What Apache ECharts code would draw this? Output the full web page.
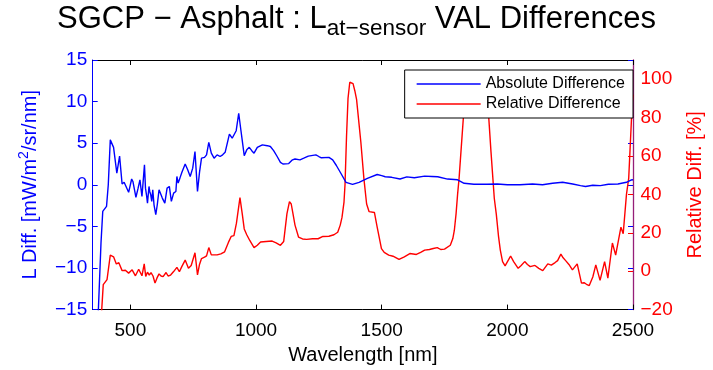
<!DOCTYPE html>
<html>
<head>
<meta charset="utf-8">
<script src="https://cdn.jsdelivr.net/npm/echarts@6/dist/echarts.min.js"></script>
<style>html,body{margin:0;padding:0;background:#fff;}#c{width:713px;height:370px;}</style>
</head>
<body>
<div id="c"></div>
<script>
// Absolute difference (left axis): wavelength [nm], value
const absWl = [370,383,390,405,412,420,433,446,457,467,475,482,493,505,510,516,522,530,538,546,556,560,564,568,574,577,581,585,589,594,601,607,614,620,627,637,646,655,663,672,681,685,690,697,705,718,728,738,748,757,767,775,783,795,803,812,822,833,845,857,867,877,894,905,910,921,931,940,953,963,973,983,992,1005,1025,1045,1057,1070,1084,1097,1107,1130,1145,1155,1175,1190,1208,1238,1250,1260,1290,1305,1319,1338,1358,1384,1410,1443,1482,1500,1514,1540,1573,1600,1630,1671,1700,1723,1762,1802,1828,1867,1919,1960,2000,2050,2100,2140,2180,2220,2260,2291,2311,2340,2370,2402,2440,2474,2492,2500];
const absVal = [-17,-7,-3.2,-2.6,0,5.4,4.5,1.4,3.45,0.1,0.3,0.4,-0.9,0.7,0.4,0.3,-1.5,-0.5,0.6,-1.4,2.4,-0.4,-1.2,-2.2,-0.2,-0.8,-1.2,-2.0,-0.6,-2.4,-3.6,-2.4,-0.6,-0.8,-1.6,-2.2,-0.4,-0.2,-2.0,-1.0,-0.8,1.0,0.2,0.8,1.5,2.5,1.8,1.0,2.0,4.0,-0.8,1.5,3.2,3.3,3.6,5.1,3.8,3.2,3.6,3.4,3.6,3.9,6.1,5.6,5.5,6.5,8.6,6.5,3.5,4.2,4.5,4.1,3.8,4.5,4.8,4.7,4.6,4.1,3.4,2.7,2.5,2.55,3.0,3.1,3.0,3.2,3.45,3.6,3.4,3.25,3.3,3.0,2.35,1.36,0.3,0.06,0.3,0.77,1.24,1.1,0.97,0.9,0.7,0.95,0.85,1.04,1.0,0.97,0.69,0.6,0.18,0.06,0.06,0.1,0.0,0.0,0.1,0.0,0.18,0.3,0.1,-0.1,-0.2,-0.05,-0.1,0.06,0.1,0.3,0.57,0.6];

// Relative difference (right axis): wavelength [nm], value [%]
const relWl = [385,392,407,420,433,444,454,467,480,493,507,520,533,546,555,561,568,575,582,590,598,606,614,622,630,642,650,660,672,685,695,705,718,731,742,757,767,775,783,795,803,812,822,829,845,860,875,890,901,912,922,936,945,953,963,975,992,1005,1018,1040,1064,1080,1097,1110,1123,1133,1140,1146,1155,1169,1185,1201,1225,1247,1266,1290,1310,1325,1335,1342,1350,1354,1360,1366,1373,1380,1386,1393,1400,1417,1429,1440,1450,1456,1471,1482,1499,1510,1528,1545,1569,1590,1612,1638,1655,1671,1690,1705,1721,1735,1750,1773,1783,1789,1796,1802,1808,1825,1840,1860,1900,1915,1926,1935,1948,1956,1965,1972,1981,1991,1998,2005,2013,2025,2043,2055,2069,2080,2091,2110,2125,2141,2161,2175,2190,2200,2213,2222,2232,2245,2259,2278,2295,2305,2315,2326,2340,2352,2369,2387,2400,2418,2431,2452,2461,2474,2483,2497,2500];
const relVal = [-22,-7,-4.4,8.4,7.5,3.8,4.4,0.3,0.5,-1.0,0.7,-2.4,1.0,-2.4,3.8,-2.7,-0.5,-2.0,-0.8,-2.5,-6.2,-3.5,-1.4,-2.5,-2.8,-0.7,-2.5,-2.0,-0.2,2.0,-0.3,2.5,5.8,1.5,3.0,9.6,-1.9,3.5,6.6,7.3,8.0,12.3,8.5,7.9,8.5,9.0,10.1,15.0,18.1,18.5,25,38.3,30,22,19,16,12.3,13.5,15.2,15.5,15.7,14.8,13.5,15.5,30,36.2,35,30.6,24,17.8,16.8,16.6,16.9,16.9,18.1,18.2,19.0,20.3,24,28,36,45,70,90,98.4,98.7,97.7,94,89.5,67.3,48.5,35,31,30.6,30.6,22.9,11.8,9.8,8.4,7.8,6.1,7.5,9.2,8.7,9.8,11.0,11.3,11.8,12.3,11.3,11.5,13.5,17,21.2,30,40,48.5,80,95,100,100,95,80,62,38,29.7,18,11,5,2.8,3.5,6,7.9,5,1.5,3,5,3.5,2.4,3.0,1.5,0.3,3.8,3.2,4.5,5.5,8.9,7,5.5,3.5,0.7,3.8,-6.2,-6.0,-6.8,-7.5,-3,3.3,-4.8,5,-3.6,14.7,8.4,22.9,19.5,40,48.5,87.8,92];

const xTicks = [500, 1000, 1500, 2000, 2500];
const leftTicks = [-15, -10, -5, 0, 5, 10, 15];
const rightTicks = [-20, 0, 20, 40, 60, 80, 100];

const FONT = '"Liberation Sans", Arial, Helvetica, sans-serif';
const absData = absWl.map((w, i) => [w, absVal[i]]);
const relData = relWl.map((w, i) => [w, relVal[i]]);
const fmt = v => String(v).replace('-', '\u2212');

const chart = echarts.init(document.getElementById('c'), null, {renderer: 'canvas'});
chart.setOption({
  animation: false,
  backgroundColor: '#fff',
  title: {
    text: '{a|SGCP \u2212 Asphalt : L}{s|at\u2212sensor}{a| VAL Differences}',
    left: 'center',
    top: 4,
    padding: 0,
    textStyle: {
      fontWeight: 'normal',
      rich: {
        a: {fontFamily: FONT, fontSize: 31, fontWeight: 'normal', color: '#000', lineHeight: 36, verticalAlign: 'top'},
        s: {fontFamily: FONT, fontSize: 22.5, fontWeight: 'normal', color: '#000', lineHeight: 10, verticalAlign: 'bottom'}
      }
    }
  },
  legend: {
    orient: 'vertical',
    right: 80,
    top: 70,
    padding: [5.5, 8, 5.5, 12],
    itemGap: 3,
    itemWidth: 64,
    itemHeight: 1.5,
    icon: 'rect',
    borderColor: '#000',
    borderWidth: 1,
    borderRadius: 0,
    backgroundColor: '#fff',
    textStyle: {fontFamily: FONT, fontSize: 16, color: '#000', lineHeight: 17},
    data: ['Absolute Difference', 'Relative Difference']
  },
  grid: {left: 92.7, right: 71.3, top: 60, bottom: 56.3, containLabel: false},
  xAxis: [{
    type: 'value', min: 350, max: 2500, position: 'bottom',
    name: 'Wavelength [nm]', nameLocation: 'middle', nameGap: 35,
    nameTextStyle: {fontFamily: FONT, fontSize: 20, color: '#000'},
    axisLine: {show: true, onZero: false, lineStyle: {color: '#000', width: 1}},
    axisTick: {show: true, inside: true, length: 5, customValues: xTicks, lineStyle: {color: '#000'}},
    axisLabel: {show: true, customValues: xTicks, margin: 11.5, fontFamily: FONT, fontSize: 19, color: '#000', formatter: fmt},
    splitLine: {show: false}
  }, {
    type: 'value', min: 350, max: 2500, position: 'top',
    axisLine: {show: true, onZero: false, lineStyle: {color: '#000', width: 1}},
    axisTick: {show: true, inside: true, length: 5, customValues: xTicks, lineStyle: {color: '#000'}},
    axisLabel: {show: false},
    splitLine: {show: false}
  }],
  yAxis: [{
    type: 'value', min: -15, max: 15, interval: 5, position: 'left',
    name: '{a|L Diff. [mW/m}{p|2}{a|/sr/nm]}', nameLocation: 'middle', nameGap: 52, nameRotate: 90,
    nameTextStyle: {
      rich: {
        a: {fontFamily: FONT, fontSize: 20, color: '#0000ff', lineHeight: 24, verticalAlign: 'bottom'},
        p: {fontFamily: FONT, fontSize: 14, color: '#0000ff', lineHeight: 14, verticalAlign: 'top'}
      }
    },
    axisLine: {show: true, onZero: false, lineStyle: {color: '#0000ff', width: 1}},
    axisTick: {show: true, inside: true, length: 5, lineStyle: {color: '#0000ff'}},
    axisLabel: {margin: 5.5, fontFamily: FONT, fontSize: 19, color: '#0000ff', customValues: leftTicks, formatter: fmt},
    splitLine: {show: false}
  }, {
    type: 'value', min: -20, max: 110, interval: 20, position: 'right',
    name: 'Relative Diff. [%]', nameLocation: 'middle', nameGap: 52, nameRotate: 90,
    nameTextStyle: {fontFamily: FONT, fontSize: 20, color: '#ff0000'},
    axisLine: {show: true, onZero: false, lineStyle: {color: '#961e78', width: 1.3}},
    axisTick: {show: true, inside: true, length: 5, customValues: rightTicks, lineStyle: {color: '#ff0000'}},
    axisLabel: {margin: 7.5, fontFamily: FONT, fontSize: 19, color: '#ff0000', customValues: rightTicks, formatter: fmt},
    splitLine: {show: false}
  }, {
    type: 'value', min: -15, max: 15, interval: 5, position: 'right',
    axisLine: {show: false},
    axisTick: {show: true, inside: true, length: 5, lineStyle: {color: '#0000ff'}},
    axisLabel: {show: false},
    splitLine: {show: false}
  }],
  series: [{
    name: 'Absolute Difference', type: 'line', xAxisIndex: 0, yAxisIndex: 0,
    data: absData, symbol: 'none', showSymbol: false, clip: true,
    lineStyle: {color: '#0000ff', width: 1.4}, itemStyle: {color: '#0000ff'}, z: 3
  }, {
    name: 'Relative Difference', type: 'line', xAxisIndex: 0, yAxisIndex: 1,
    data: relData, symbol: 'none', showSymbol: false, clip: true,
    lineStyle: {color: '#ff0000', width: 1.4}, itemStyle: {color: '#ff0000'}, z: 2
  }]
});
</script>
</body>
</html>
